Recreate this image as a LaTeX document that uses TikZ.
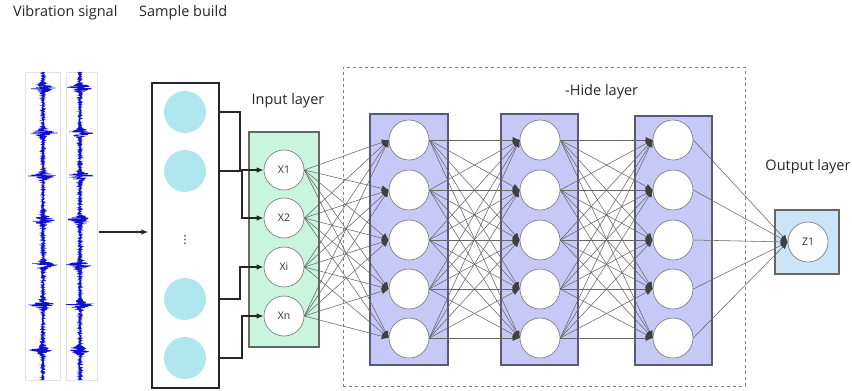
\documentclass[tikz,border=0pt]{standalone}
\usepackage{fontspec}
\setmainfont{Open Sans}
\newfontfamily\symfont{DejaVu Sans}
\usetikzlibrary{arrows.meta}
\definecolor{mint}{HTML}{C9F5DF}
\definecolor{lav}{HTML}{C8C8F7}
\definecolor{boxedge}{HTML}{5A5A78}
\definecolor{cyanc}{HTML}{B0E6EE}
\definecolor{outbl}{HTML}{CCE4F7}
\definecolor{sig}{HTML}{1010D0}
\definecolor{wire}{HTML}{666666}
\begin{document}
\begin{tikzpicture}[x=1pt,y=-1pt,
  title/.style={font=\fontsize{14.5}{16}\selectfont, inner sep=0pt, text=black!85},
  neuron/.style={circle, draw=black!55, line width=0.6pt, fill=white, minimum size=40pt, inner sep=0pt, font=\fontsize{10.5}{12}\selectfont, text=black!80},
  samp/.style={circle, fill=cyanc, minimum size=42pt, inner sep=0pt},
  layerbox/.style={draw=boxedge, line width=1.2pt, fill=lav, inner sep=0pt},
  wirec/.style={draw=wire, line width=0.55pt, -{Latex[length=7pt,width=6pt,color=black!75]}},
  feed/.style={draw=black!85, line width=1.2pt, -{Latex[length=7pt,width=5.5pt]}},
  declare function={amp(\t)=1.3+14*(max(0,1-abs(\t-88)/8)+max(0,1-abs(\t-133)/8)+max(0,1-abs(\t-176)/8)+max(0,1-abs(\t-220)/8)+max(0,1-abs(\t-265)/8)+max(0,1-abs(\t-305)/8)+max(0,1-abs(\t-350)/8))^2;}
]
\useasboundingbox (0,0) rectangle (852,391);

% titles
\node[title, anchor=west] (tvib) at (13,13) {Vibration signal};
\node[title, anchor=west] (tsam) at (139,13) {Sample build};
\node[title] (tin) at (288,101) {Input layer};
\node[title, anchor=west] (thid) at (565,92) {-Hide layer};
\node[title] (tout) at (808,167) {Output layer};

% vibration signals
\pgfmathsetseed{7}
\draw[gray!22, line width=0.4pt] (25,72) rectangle (60,380);
\draw[gray!22, line width=0.4pt] (66,72) rectangle (97,380);
\draw[sig, line width=0.6pt] plot[variable=\t, samples=1600, domain=72:380] ({43+amp(\t)*rand}, \t);
\draw[sig, line width=0.6pt] plot[variable=\t, samples=1600, domain=72:380] ({80+amp(\t)*rand}, \t);
\coordinate (sigend) at (99,232);

% sample build box
\node[draw=black!85, line width=1.2pt, minimum width=67pt, minimum height=305pt, inner sep=0pt] (sb) at (185.5,235.5) {};
\node[samp] (s1) at (185,112) {};
\node[samp] (s2) at (185,171) {};
\node[samp] (s3) at (185,299) {};
\node[samp] (s4) at (185,358) {};
\node[inner sep=0pt, font=\symfont\fontsize{11}{11}\selectfont] (sdots) at (185,240) {⋮};
\draw[feed, line width=1.4pt, shorten >=3pt] (sigend) -- (sigend -| sb.west);

% input layer
\node[draw=black!60, line width=1.2pt, fill=mint, minimum width=70pt, minimum height=215pt, inner sep=0pt] (inbox) at (284,239.5) {};
\node[neuron] (x1) at (284,170) {X1};
\node[neuron] (x2) at (284,218) {X2};
\node[neuron] (x3) at (284,267) {Xi};
\node[neuron] (x4) at (284,316) {Xn};

\draw[feed] (sb.east |- s1) -- (240,112) |- (x1.west);
\draw[feed] (sb.east |- s2) -- (242,171) |- (x2.west);
\draw[feed] (sb.east |- s3) -- (240,299) |- (x3.west);
\draw[feed] (sb.east |- s4) -- (242,358) |- (x4.west);

% hidden region
\node[draw=black!50, dashed, line width=0.6pt, minimum width=402pt, minimum height=319pt, inner sep=0pt] (hid) at (544,226.5) {};
\node[layerbox, minimum width=78pt, minimum height=251pt] (hb1) at (409,239.5) {};
\node[layerbox, minimum width=77pt, minimum height=251pt] (hb2) at (539.5,239.5) {};
\node[layerbox, minimum width=77pt, minimum height=249pt] (hb3) at (673.5,240.5) {};

\foreach \l/\cx in {1/409,2/540,3/673}{
  \foreach \k/\cy in {1/140,2/190,3/240,4/289,5/338}{
    \node[neuron] (h\l\k) at (\cx,\cy) {};
  }
}

% output layer
\node[draw=black!60, line width=1.2pt, fill=outbl, minimum width=64pt, minimum height=64pt, inner sep=0pt] (obox) at (807,242) {};
\node[neuron] (z) at (808,242) {Z1};

% connections
\foreach \i in {1,...,4}{
  \foreach \k in {1,...,5}{
    \draw[wirec] (x\i.east) -- (h1\k.west);
  }
}
\foreach \i in {1,...,5}{
  \foreach \k in {1,...,5}{
    \draw[wirec] (h1\i.east) -- (h2\k.west);
    \draw[wirec] (h2\i.east) -- (h3\k.west);
  }
  \draw[wirec] (h3\i.east) -- (z.west);
}
\end{tikzpicture}
\end{document}
